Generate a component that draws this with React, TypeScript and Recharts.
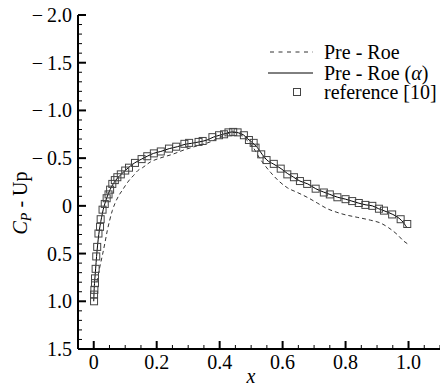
import { ComposedChart, Line, Scatter, XAxis, YAxis, Legend, Label } from 'recharts'

// C_P along the upper surface as [x, Cp]
const preRoe: [number, number][] = [
  [0.010, 0.80], [0.018, 0.66], [0.028, 0.51], [0.036, 0.38], [0.043, 0.26], [0.050, 0.16],
  [0.059, 0.05], [0.068, -0.03], [0.080, -0.11], [0.090, -0.16], [0.100, -0.21], [0.113, -0.27],
  [0.127, -0.32], [0.140, -0.37], [0.155, -0.40], [0.180, -0.46], [0.210, -0.50], [0.250, -0.54],
  [0.290, -0.59], [0.330, -0.63], [0.370, -0.67], [0.400, -0.72], [0.420, -0.75], [0.440, -0.77],
  [0.460, -0.76], [0.483, -0.70], [0.509, -0.60], [0.525, -0.51], [0.540, -0.44], [0.562, -0.35],
  [0.588, -0.26], [0.615, -0.19], [0.647, -0.14], [0.678, -0.09], [0.710, -0.03], [0.742, 0.03],
  [0.770, 0.065], [0.795, 0.09], [0.837, 0.12], [0.879, 0.15], [0.911, 0.18], [0.937, 0.23],
  [0.964, 0.30], [0.985, 0.37], [0.998, 0.40],
]

const preRoeAlpha: [number, number][] = [
  [0.000, 1.00], [0.001, 0.90], [0.003, 0.79], [0.006, 0.66], [0.009, 0.53], [0.012, 0.42],
  [0.016, 0.30], [0.020, 0.21], [0.025, 0.12], [0.030, 0.04], [0.036, -0.03], [0.042, -0.09],
  [0.052, -0.17], [0.060, -0.22], [0.068, -0.26], [0.078, -0.30], [0.090, -0.34], [0.110, -0.40],
  [0.130, -0.45], [0.152, -0.49], [0.170, -0.52], [0.190, -0.55], [0.213, -0.57], [0.240, -0.60],
  [0.266, -0.62], [0.290, -0.645], [0.310, -0.655], [0.335, -0.67], [0.360, -0.69], [0.380, -0.72],
  [0.400, -0.74], [0.420, -0.76], [0.440, -0.775], [0.460, -0.765], [0.475, -0.745], [0.490, -0.70],
  [0.505, -0.66], [0.520, -0.61], [0.535, -0.54], [0.550, -0.48], [0.570, -0.44], [0.595, -0.39],
  [0.615, -0.34], [0.635, -0.30], [0.655, -0.26], [0.680, -0.23], [0.705, -0.18], [0.730, -0.145],
  [0.750, -0.12], [0.775, -0.09], [0.800, -0.07], [0.820, -0.05], [0.840, -0.03], [0.865, -0.01],
  [0.885, 0.00], [0.905, 0.03], [0.925, 0.055], [0.950, 0.09], [0.970, 0.13], [0.985, 0.18],
  [0.995, 0.23],
]

const reference: [number, number][] = [
  [0.001, 1.00], [0.001, 0.93], [0.002, 0.88], [0.004, 0.81], [0.004, 0.76], [0.006, 0.66],
  [0.008, 0.53], [0.011, 0.43], [0.015, 0.29], [0.020, 0.22], [0.022, 0.14], [0.028, 0.04],
  [0.035, -0.02], [0.041, -0.08], [0.047, -0.12], [0.052, -0.17], [0.059, -0.23], [0.067, -0.27],
  [0.075, -0.30], [0.086, -0.33], [0.100, -0.37], [0.112, -0.40], [0.131, -0.45], [0.152, -0.49],
  [0.170, -0.52], [0.191, -0.55], [0.213, -0.57], [0.239, -0.60], [0.262, -0.62], [0.288, -0.65],
  [0.303, -0.66], [0.333, -0.67], [0.346, -0.68], [0.377, -0.72], [0.398, -0.74], [0.414, -0.75],
  [0.428, -0.77], [0.443, -0.775], [0.457, -0.77], [0.477, -0.74], [0.493, -0.69], [0.508, -0.66],
  [0.514, -0.61], [0.532, -0.54], [0.549, -0.48], [0.572, -0.44], [0.594, -0.39], [0.615, -0.33],
  [0.636, -0.30], [0.655, -0.26], [0.678, -0.23], [0.705, -0.18], [0.731, -0.14], [0.750, -0.12],
  [0.774, -0.09], [0.800, -0.07], [0.821, -0.05], [0.842, -0.03], [0.863, -0.01], [0.885, 0.00],
  [0.906, 0.03], [0.922, 0.05], [0.948, 0.09], [0.975, 0.14], [0.996, 0.19],
]

const xMajor = [0, 0.2, 0.4, 0.6, 0.8, 1.0]
const xLabels = ['0', '0.2', '0.4', '0.6', '0.8', '1.0']
const yMajor = [-2, -1.5, -1, -0.5, 0, 0.5, 1, 1.5]
const yLabels = ['\u2212\u20092.0', '\u2212\u20091.5', '\u2212\u20091.0', '\u2212\u20090.5', '0', '0.5', '1.0', '1.5']

const legendNames = ['Pre - Roe', 'Pre - Roe', 'reference [10]']

const FONT = 'Liberation Serif, Times New Roman, serif'

const toRows = (pts: [number, number][]) => pts.map(([x, cp]) => ({ x, cp }))

// minor ticks: every 0.05 on x, every 0.1 on y
const xTicks: number[] = []
for (let i = 0; i <= 22; i++) xTicks.push(Math.round(i * 5) / 100)
const yTicks: number[] = []
for (let i = -20; i <= 15; i++) yTicks.push(i / 10)

const findMajor = (list: number[], v: number) => list.findIndex((m) => Math.abs(m - v) < 1e-6)

function XTick(props: any) {
  const { x, y, payload } = props
  const i = findMajor(xMajor, payload.value)
  const major = i >= 0
  return (
    <g>
      <line x1={x} x2={x} y1={y} y2={y - (major ? 8 : 4)} stroke="#000" strokeWidth={major ? 2 : 1} />
      {major && (
        <text x={x} y={y + 13} dy="0.35em" textAnchor="middle" style={{ fontFamily: FONT, fontSize: 20 }} fill="#000">
          {xLabels[i]}
        </text>
      )}
    </g>
  )
}

function YTick(props: any) {
  const { x, y, payload } = props
  const i = findMajor(yMajor, payload.value)
  const major = i >= 0
  return (
    <g>
      <line x1={x} x2={x + (major ? 8 : 4)} y1={y} y2={y} stroke="#000" strokeWidth={major ? 2 : 1} />
      {major && (
        <text x={x - 6} y={y} dy="0.35em" textAnchor="end" style={{ fontFamily: FONT, fontSize: 20 }} fill="#000">
          {yLabels[i]}
        </text>
      )}
    </g>
  )
}

const HollowSquare = (props: any) => {
  const { cx, cy } = props
  if (cx == null || cy == null) return <g />
  return <rect x={cx - 3.5} y={cy - 3.5} width={7} height={7} fill="none" stroke="#444" strokeWidth={1} />
}

function LegendBox() {
  const t = { style: { fontFamily: FONT, fontSize: 20 }, fill: '#000' }
  return (
    <svg width={180} height={70}>
      <line x1={8} x2={51} y1={12} y2={12} stroke="#333" strokeDasharray="4 4.5" />
      <text x={62} y={12} dy="0.35em" {...t}>{legendNames[0]}</text>
      <line x1={6} x2={51} y1={33} y2={33} stroke="#000" />
      <text x={62} y={33} dy="0.35em" {...t}>
        {legendNames[1]} (<tspan fontStyle="italic">α</tspan>)
      </text>
      <rect x={31.5} y={48.5} width={7} height={7} fill="none" stroke="#444" />
      <text x={62} y={52} dy="0.35em" {...t}>{legendNames[2]}</text>
    </svg>
  )
}

export default function App() {
  return (
    <div style={{ position: 'absolute', left: 0, top: 0, background: '#fff', fontFamily: FONT }}>
      <ComposedChart width={440} height={389} margin={{ top: 15, right: 0, bottom: 0, left: 0 }}>
        <XAxis
          dataKey="x"
          type="number"
          domain={[-0.05, 1.1]}
          allowDataOverflow
          ticks={xTicks}
          interval={0}
          height={40}
          tickSize={0}
          tickMargin={0}
          tickLine={false}
          tick={<XTick />}
          axisLine={{ stroke: '#000', strokeWidth: 2 }}
        >
          <Label
            content={() => (
              <text x={251} y={376} dy="0.35em" textAnchor="middle" style={{ fontFamily: FONT, fontSize: 20, fontStyle: 'italic' }}>
                x
              </text>
            )}
          />
        </XAxis>
        <YAxis
          dataKey="cp"
          type="number"
          domain={[-2, 1.5]}
          reversed
          allowDataOverflow
          ticks={yTicks}
          interval={0}
          width={78}
          tickSize={0}
          tickMargin={0}
          tickLine={false}
          tick={<YTick />}
          axisLine={{ stroke: '#000', strokeWidth: 2 }}
        >
          <Label
            content={() => (
              <text
                x={20}
                y={203}
                dy="0.35em"
                transform="rotate(-90 20 203)"
                textAnchor="middle"
                style={{ fontFamily: FONT, fontSize: 20 }}
              >
                <tspan fontStyle="italic">C</tspan>
                <tspan fontStyle="italic" fontSize={14} dy={4}>P</tspan>
                <tspan dy={-4}> - Up</tspan>
              </text>
            )}
          />
        </YAxis>
        <Line
          data={toRows(preRoe)}
          dataKey="cp"
          type="monotone"
          stroke="#333"
          strokeWidth={1}
          strokeDasharray="4 3"
          dot={false}
          isAnimationActive={false}
        />
        <Line
          data={toRows(preRoeAlpha)}
          dataKey="cp"
          type="monotone"
          stroke="#000"
          strokeWidth={1}
          dot={false}
          isAnimationActive={false}
        />
        <Scatter data={toRows(reference)} dataKey="cp" shape={<HollowSquare />} isAnimationActive={false} />
        <Legend
          layout="vertical"
          verticalAlign="middle"
          align="center"
          wrapperStyle={{ left: 262, top: 40, width: 180, height: 70 }}
          content={<LegendBox />}
        />
      </ComposedChart>
    </div>
  )
}
